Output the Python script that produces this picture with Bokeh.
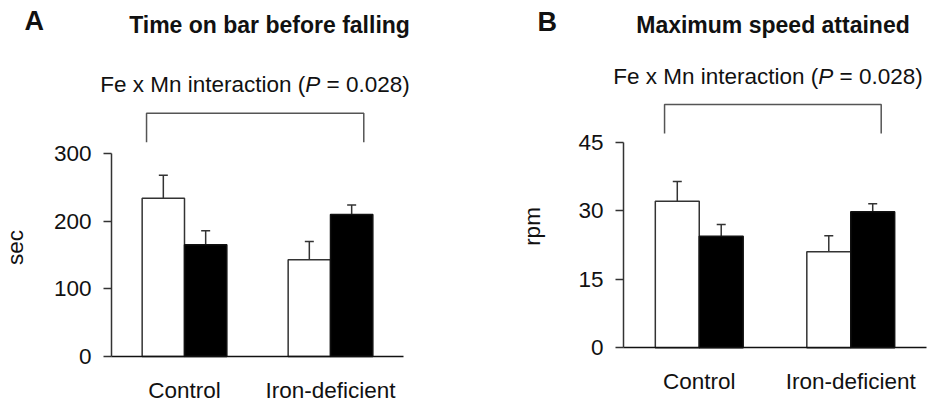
import math
from bokeh.plotting import figure
from bokeh.models import (Range1d, FixedTicker, ColumnDataSource, Whisker, TeeHead, Label)
from bokeh.transform import dodge
from bokeh.layouts import row
from bokeh.embed import file_html
from bokeh.resources import INLINE

# ---------------- data ----------------
groups = ["Control", "Iron-deficient"]

# Panel A: time on bar before falling (sec)
a_open = [234, 143]
a_open_err = [34, 27]
a_filled = [165, 210]
a_filled_err = [21, 14]
a_ticks = [0, 100, 200, 300]

# Panel B: maximum speed attained (rpm)
b_open = [32.1, 21.0]
b_open_err = [4.3, 3.5]
b_filled = [24.4, 29.8]
b_filled_err = [2.6, 1.7]
b_ticks = [0, 15, 30, 45]

interaction_pre = "Fe x Mn interaction ("
interaction_p = "P"
interaction_post = "= 0.028)"

FONT = "Liberation Sans"
FS = 22.5         # regular text size (px)
TFS = 23          # bold title size
BAR_W = 0.29
EDGE = "#333333"
W, H = 465, 404
BASE_SHIFT = 0.38  # em; compensates the baseline placement of labels

# category centres on a numeric axis (index + 0.5)
centres = [i + 0.5 for i in range(len(groups))]


def make_panel(open_v, open_e, filled_v, filled_e, ticks, ylabel, letter, title,
               x_range, y_range, x_bound, letter_pos, title_pos, sub_center,
               ylabel_pos, bracket):
    p = figure(width=W, height=H, output_backend="svg", toolbar_location=None,
               x_range=Range1d(*x_range), y_range=Range1d(*y_range),
               min_border_left=0, min_border_right=0,
               min_border_top=0, min_border_bottom=0)
    p.outline_line_color = None
    p.xgrid.visible = False
    p.ygrid.visible = False
    p.background_fill_color = "white"
    p.border_fill_color = "white"

    src = ColumnDataSource(dict(
        x=centres,
        open=open_v, open_up=[v + e for v, e in zip(open_v, open_e)],
        filled=filled_v, filled_up=[v + e for v, e in zip(filled_v, filled_e)],
    ))
    left = dodge("x", -BAR_W / 2)
    right = dodge("x", BAR_W / 2)

    for base, lo, hi in ((left, "open", "open_up"), (right, "filled", "filled_up")):
        w = Whisker(source=src, base=base, lower=lo, upper=hi, dimension="height",
                    line_color=EDGE, line_width=1.5, lower_head=None,
                    upper_head=TeeHead(size=9, line_color=EDGE, line_width=1.5))
        p.add_layout(w)

    p.vbar(x=left, top="open", bottom=0, width=BAR_W, source=src,
           fill_color="white", line_color=EDGE, line_width=1.5)
    p.vbar(x=right, top="filled", bottom=0, width=BAR_W, source=src,
           fill_color="black", line_color="#111111", line_width=1.5)

    # bracket over the groups
    bx0, bx1, by_low, by_high = bracket
    p.line(x=[bx0, bx0, bx1, bx1], y=[by_low, by_high, by_high, by_low],
           line_color="#555555", line_width=1.5)

    # x axis at y = 0
    xa = p.xaxis[0]
    xa.fixed_location = 0
    xa.bounds = (0, x_bound)
    xa.ticker = FixedTicker(ticks=centres)
    xa.major_label_overrides = {c: g for c, g in zip(centres, groups)}
    xa.minor_tick_line_color = None
    xa.major_tick_out = 0
    xa.major_tick_in = 0
    xa.axis_line_color = "#111111"
    xa.axis_line_width = 1.5
    xa.major_label_text_font = FONT
    xa.major_label_text_font_size = f"{FS}px"
    xa.major_label_text_color = "#111111"
    xa.major_label_standoff = 21

    # y axis at x = 0
    ya = p.yaxis[0]
    ya.fixed_location = 0
    ya.ticker = FixedTicker(ticks=ticks)
    ya.bounds = (0, ticks[-1])
    ya.major_tick_out = 8
    ya.major_tick_in = 0
    ya.minor_tick_line_color = None
    ya.major_tick_line_color = EDGE
    ya.major_tick_line_width = 1.5
    ya.axis_line_color = EDGE
    ya.axis_line_width = 1.5
    ya.major_label_text_font = FONT
    ya.major_label_text_font_size = f"{FS}px"
    ya.major_label_text_color = "#111111"
    ya.major_label_standoff = 12

    def lab(x, y, text, size=FS, style="normal", align="left", angle=0):
        # shift "up" along the text's own vertical direction
        s = BASE_SHIFT * size
        if angle:
            x -= s
        else:
            y += s
        p.add_layout(Label(x=x, y=y, x_units="screen", y_units="screen", text=text,
                           text_font=FONT, text_font_size=f"{size}px", text_font_style=style,
                           text_align=align, text_baseline="alphabetic", angle=angle,
                           text_color="#111111"))

    lab(letter_pos[0], letter_pos[1], letter, size=27, style="bold")
    lab(title_pos[0], title_pos[1], title, size=TFS, style="bold", align="center")

    # subtitle split so that P is italic (Arial-metric advances, in em)
    w_pre, w_p, w_sp, w_post = 9.114, 0.667, 0.278, 3.697
    total = (w_pre + w_p + w_sp + w_post) * FS
    x0 = sub_center[0] - total / 2
    lab(x0, sub_center[1], interaction_pre)
    lab(x0 + w_pre * FS, sub_center[1], interaction_p, style="italic")
    lab(x0 + (w_pre + w_p + w_sp) * FS, sub_center[1], interaction_post)

    lab(ylabel_pos[0], ylabel_pos[1], ylabel, align="center", angle=math.pi / 2)
    return p


pA = make_panel(a_open, a_open_err, a_filled, a_filled_err, a_ticks, "sec", "A",
                "Time on bar before falling",
                x_range=(-0.7603, 2.4247), y_range=(-70.93, 526.1), x_bound=2.0,
                letter_pos=(24, 373), title_pos=(269, 371), sub_center=(254.5, 311.3),
                ylabel_pos=(24, 157), bracket=(0.24, 1.728, 316.7, 359.6))

pB = make_panel(b_open, b_open_err, b_filled, b_filled_err, b_ticks, "rpm", "B",
                "Maximum speed attained",
                x_range=(-1.0429, 2.0264), y_range=(-12.41, 76.01), x_bound=2.0,
                letter_pos=(72, 372.3), title_pos=(307.5, 370.7), sub_center=(302.5, 319),
                ylabel_pos=(76, 178), bracket=(0.271, 1.701, 46.9, 53.25))

layout = row(pA, pB)
open("out.html", "w").write(file_html(layout, INLINE))
